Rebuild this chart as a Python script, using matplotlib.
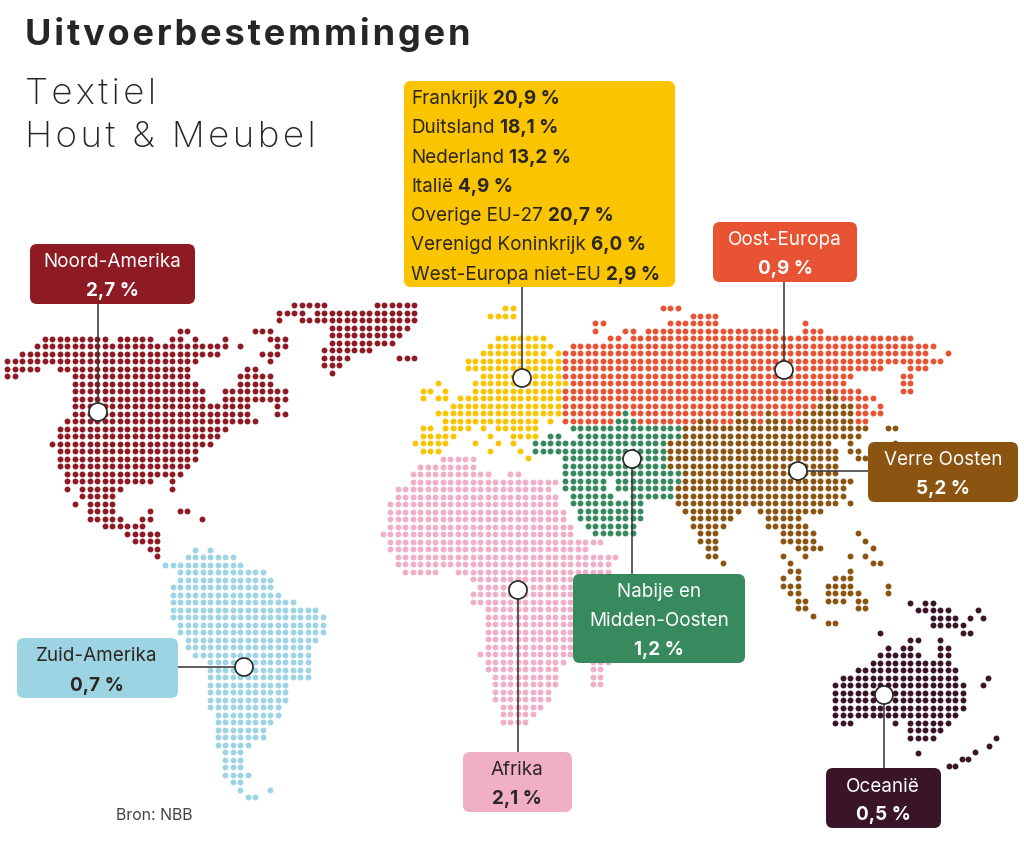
import numpy as np
import matplotlib
matplotlib.use("Agg")
import matplotlib.pyplot as plt
from matplotlib.patches import FancyBboxPatch, Circle

plt.rcParams['font.family'] = ['Inter', 'DejaVu Sans']

# each list item is one row of the dot grid, "a-b" means columns a to b
noord_amerika = [
    "23-24 33-35",
    "5-13 15-19 22-23 25 29 35-37",
    "4-29 31 36-37",
    "2-28 34-36",
    "0-25 35",
    "0-4 7-24 32-33",
    "0-1 9-24 31-35",
    "9-25 31-35",
    "9-26 29-37",
    "9-26 29-37",
    "9-32 36",
    "9-32 36-37",
    "8-33",
    "7-29",
    "7-28",
    "6-27",
    "7-25",
    "7-25",
    "7-24",
    "8-23",
    "8-19 22",
    "8 10-15 22",
    "10-14",
    "9 11-14",
    "11-14 19 23-24",
    "11-15 18-19 26",
    "13-18",
    "16-20",
    "17-20",
    "19-20",
    "20",
]
groenland = [
    "2-6 13-18",
    "0-3 5-18",
    "0 3-18",
    "7-17",
    "7-16",
    "7-15",
    "6-12",
    "6-9 16-18",
    "6-8",
    "7",
]
zuid_amerika = [
    "4 6",
    "3-9",
    "0-10",
    "2-13",
    "2-14",
    "1-14",
    "1-15",
    "1-17",
    "1-20",
    "1-21",
    "2-21",
    "2-21",
    "3-20",
    "3-19",
    "4-19",
    "6-19",
    "6-19",
    "6-19",
    "6-16",
    "6-16",
    "6-16",
    "6-15",
    "7-15",
    "7-14",
    "7-13",
    "7-13",
    "7-11",
    "8-10",
    "8-10",
    "8-10",
    "8-11",
    "9-10",
    "10 14",
    "11-12",
]
afrika = [
    "8-12",
    "5-12",
    "4-14 17-18",
    "4-23",
    "2-22",
    "2-23",
    "1-23",
    "1-24",
    "1-24",
    "1-25",
    "0-25",
    "1-29",
    "1-27",
    "2-31",
    "2-30",
    "3-7 10-30",
    "12-25",
    "13-25",
    "12-25",
    "12-25",
    "14-25",
    "14-25",
    "14-25",
    "14-25",
    "14-25",
    "14-25",
    "13-25",
    "14-24 28-30",
    "14-23 28-29",
    "15-23 28-29",
    "15-23 28-29",
    "15-22",
    "15-22",
    "16-21",
    "16-20",
    "16-19",
]
# europe, oost-europa, midden-oosten and verre oosten share one grid
europa = [
    "12-13",
    "10-13",
    "",
    "",
    "11-17",
    "10-18",
    "9-17 19",
    "7-19",
    "7-19",
    "9-19",
    "3 8-20",
    "1-2 4 8-19",
    "1 3-4 6-19",
    "5-19",
    "3-19",
    "4-16 18",
    "1-2 4-7 9 11-16",
    "1-5 10 13-16",
    "0-4 8 11 13",
    "1-3 10 14",
    "15",
]
oost_europa = [
    "33-35",
    "37-40",
    "24-25 34-40 52",
    "24 28-29 31-48 52-54",
    "26-27 29-66",
    "21-69",
    "20-68 71",
    "20-70",
    "20-62 66-68",
    "20-58 65-66",
    "21-57 65-66",
    "20-54 56-59 65-66",
    "20-54 57-61",
    "20-53 59-60 62",
    "20-27 29-42 44-46 48-51 59-62",
    "20-26 30-37 40-42 46 50 59-60",
]
midden_oosten = [
    "", "", "", "", "", "", "", "", "", "", "", "", "", "",
    "28",
    "27-29",
    "21-35",
    "18-19 22-35",
    "16-33",
    "16-33",
    "20-33",
    "20-33",
    "20-35",
    "20-25 27-35",
    "20-25 27-34",
    "21-26 29-34",
    "21-30",
    "22-30",
    "22-30",
    "23-29",
    "24-29",
]
verre_oosten = [
    "", "", "", "", "", "", "", "", "", "", "",
    "55",
    "55-56",
    "54-58",
    "43 47 52-58",
    "38-39 43-45 47-49 51-58",
    "36-60 63-64",
    "36-59",
    "34-55 58 64",
    "34-56 58-59",
    "34-56 59-60",
    "34-56",
    "36-56",
    "36-58",
    "35-57",
    "35-57",
    "35-56 58",
    "36-43 46-54",
    "37-42 47-51",
    "37-41 47-52",
    "38-40 49-53 59",
    "38-40 49-53 60",
    "39-40 51-54 61",
    "39-40 49 52 58 60",
    "41 50 61-62",
    "50-51 58",
    "49 51 56-58",
    "49-51 55-58 63",
    "50-51 55-59 63",
    "51-52 55-57 59-60",
    "51-52 59-60",
    "53",
    "55-56",
]
oceanie = [
    "10 12-13",
    "11-15 19",
    "13-16 18",
    "13-17",
    "6 17-18",
    "10-11 14",
    "7 9-10 14-15",
    "6-11 14-15",
    "5-15",
    "3-16",
    "1-16",
    "0-17",
    "0-17",
    "0-17",
    "0-17",
    "0-16",
    "0-2 8 10-15",
    "10-14",
    "10-13",
    "",
    "11",
]
oceanie_los_x = [983, 988, 982.5, 996, 989, 975, 968, 962, 955, 949]
oceanie_los_y = [618, 678, 685, 738, 746, 752, 759, 759, 766, 766]

kleur_na = '#8e1a23'
kleur_za = '#9dd4e3'
kleur_eu = '#fbc400'
kleur_oe = '#e85433'
kleur_mo = '#378a5d'
kleur_vo = '#8b5410'
kleur_af = '#f0afc6'
kleur_oc = '#3a1527'
tekst_donker = '#2b2620'

europa_regels = ["Frankrijk", "Duitsland", "Nederland", "Italië", "Overige EU-27",
                 "Verenigd Koninkrijk", "West-Europa niet-EU"]
europa_waarden = ["20,9 %", "18,1 %", "13,2 %", "4,9 %", "20,7 %", "6,0 %", "2,9 %"]


def expand(rows):
    cols_out, rows_out = [], []
    for r, line in enumerate(rows):
        for run in line.split():
            a, _, b = run.partition('-')
            for c in range(int(a), int(b or a) + 1):
                cols_out.append(c)
                rows_out.append(r)
    return np.array(cols_out), np.array(rows_out)


def dots(rows, x0, y0, color):
    c, r = expand(rows)
    ax.scatter(x0 + c * STEP, y0 + r * STEP, s=DOT, color=color, linewidths=0, zorder=1)


def box(x1, y1, x2, y2, color):
    ax.add_patch(FancyBboxPatch((x1 + 6, y1 + 6), x2 - x1 - 12, y2 - y1 - 12,
                                boxstyle="round,pad=6,rounding_size=7",
                                fc=color, ec='none', zorder=4))


def spaced(s, n=1):
    return ("\u200a" * n).join(s)


def label(x, ys, lines, color):
    for i, (y, t) in enumerate(zip(ys, lines)):
        bold = i == len(lines) - 1
        ax.text(x, y + 2, t, ha='center', va='center', color=color, fontsize=BODY,
                fontweight='bold' if bold else 'normal', zorder=5)


def pin(x, y, x2, y2):
    ax.plot([x, x2], [y, y2], color='#333333', lw=1.1, zorder=2, solid_capstyle='butt')
    ax.add_patch(Circle((x, y), 9, fc='white', ec='#262626', lw=1.2, zorder=3))


STEP = 7.5
DOT = 18
BODY = 13.6

fig = plt.figure(figsize=(10.24, 8.66), dpi=100)
ax = fig.add_axes([0, 0, 1, 1])
ax.set_xlim(0, 1024)
ax.set_ylim(866, 0)
ax.axis('off')

dots(noord_amerika, 7.3, 331.2, kleur_na)
dots(groenland, 279.3, 305.3, kleur_na)
dots(zuid_amerika, 165, 549.7, kleur_za)
dots(afrika, 382.5, 459.3, kleur_af)
dots(europa, 415, 308.3, kleur_eu)
dots(oost_europa, 415, 308.3, kleur_oe)
dots(midden_oosten, 415, 308.3, kleur_mo)
dots(verre_oosten, 415, 308.3, kleur_vo)
dots(oceanie, 835, 602.7, kleur_oc)
ax.scatter(oceanie_los_x, oceanie_los_y, s=DOT, color=kleur_oc, linewidths=0, zorder=1)

pin(98, 412, 98, 304)
pin(522, 378, 522, 287)
pin(784, 370, 784, 282)
pin(798, 471, 868, 471)
pin(632, 459, 632, 574)
pin(518, 590, 518, 752)
pin(244, 667, 178, 667)
pin(884, 695, 884, 768)

box(30, 244, 195, 304, kleur_na)
box(404, 81, 675, 287, kleur_eu)
box(713, 222, 857, 282, kleur_oe)
box(868, 442, 1018, 502, kleur_vo)
box(573, 574, 745, 663, kleur_mo)
box(17, 638, 178, 698, kleur_za)
box(463, 752, 572, 812, kleur_af)
box(826, 768, 941, 828, kleur_oc)

label(112, [260, 289], ["Noord-Amerika", "2,7 %"], 'white')
label(785, [238, 267], ["Oost-Europa", "0,9 %"], 'white')
label(943, [458, 487], ["Verre Oosten", "5,2 %"], 'white')
label(659, [590, 619, 648], ["Nabije en", "Midden-Oosten", "1,2 %"], 'white')
label(97, [654, 684], ["Zuid-Amerika", "0,7 %"], tekst_donker)
label(517, [768, 797], ["Afrika", "2,1 %"], tekst_donker)
label(883, [785, 813], ["Oceanië", "0,5 %"], 'white')

# regel tekst + vet getal naast elkaar
rend = fig.canvas.get_renderer()
for i, (naam, waarde) in enumerate(zip(europa_regels, europa_waarden)):
    y = 97 + i * 29.3
    t = ax.text(411, y, naam, ha='left', va='center_baseline', color=tekst_donker,
                fontsize=BODY, zorder=5)
    x_end = t.get_window_extent(rend).x1
    ax.text(x_end + 5, y, waarde, ha='left', va='center_baseline', color=tekst_donker,
            fontsize=BODY, fontweight='bold', zorder=5)

ax.text(25, 35, spaced("Uitvoerbestemmingen", 1), ha='left', va='center', fontsize=26,
        fontweight='bold', color='#262626')
ax.text(25, 94.5, spaced("Textiel", 1), ha='left', va='center', fontsize=26.5,
        fontweight='light', color='#262626')
ax.text(25, 137, spaced("Hout & Meubel", 1), ha='left', va='center', fontsize=26.5,
        fontweight='light', color='#262626')
ax.text(116, 815, "Bron: NBB", ha='left', va='center', fontsize=11.4, color='#444444')

fig.savefig("out.png", dpi=100)
